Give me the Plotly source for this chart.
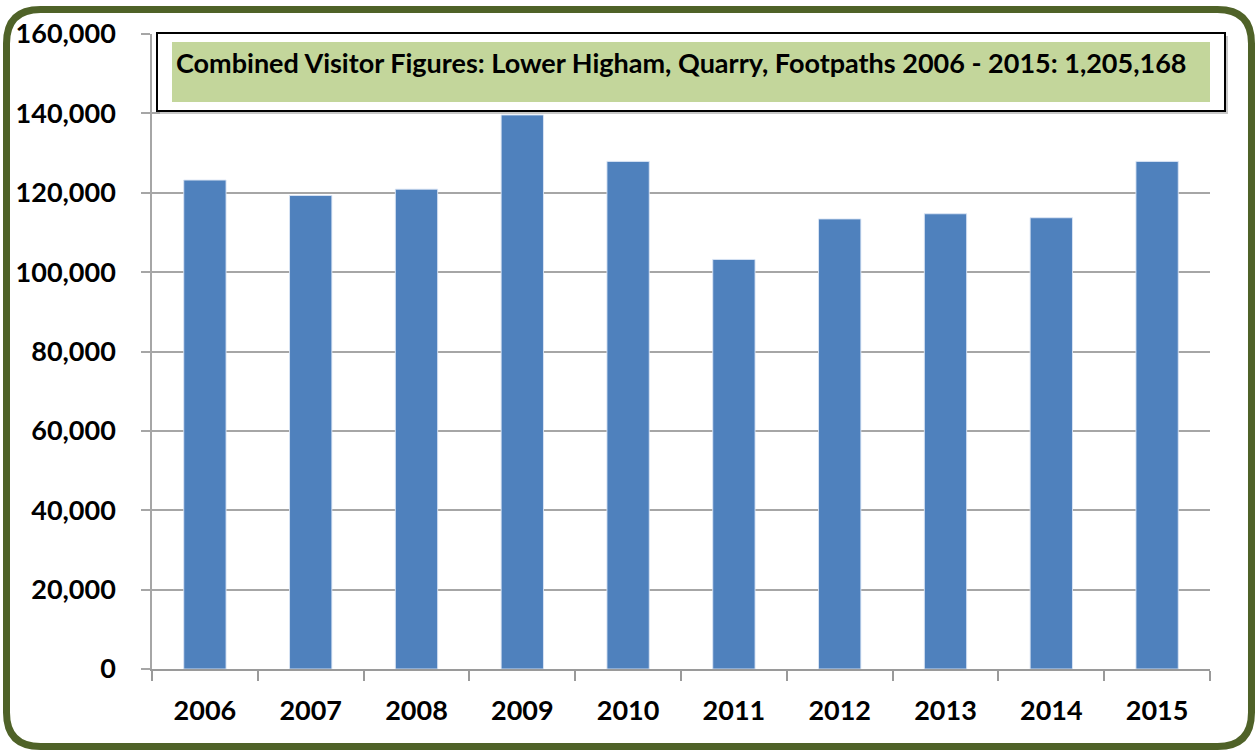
import plotly.graph_objects as go

years = ["2006", "2007", "2008", "2009", "2010", "2011", "2012", "2013", "2014", "2015"]
visitors = [123200, 119300, 120900, 139600, 127900, 103200, 113400, 114700, 113700, 127900]
title_text = "Combined Visitor Figures: Lower Higham, Quarry, Footpaths 2006 - 2015: 1,205,168"
y_ticks = [0, 20000, 40000, 60000, 80000, 100000, 120000, 140000, 160000]

W, H = 1258, 751
L, R, T, B = 152, 48, 34, 82
PW, PH = W - L - R, H - T - B


def px(x):
    return (x - L) / PW


def py(y):
    return (H - B - y) / PH


fig = go.Figure()
fig.add_trace(go.Bar(
    x=years, y=visitors,
    marker=dict(color="#4f81bd", line=dict(color="rgba(220,230,245,0.9)", width=1)),
))

# outer rounded border
l, r, t, b, rad = 6.5, 1251.5, 9.5, 746.5, 34
pts = [
    ("M", px(l + rad), py(t)),
    ("L", px(r - rad), py(t)),
    ("Q", px(r), py(t), px(r), py(t + rad)),
    ("L", px(r), py(b - rad)),
    ("Q", px(r), py(b), px(r - rad), py(b)),
    ("L", px(l + rad), py(b)),
    ("Q", px(l), py(b), px(l), py(b - rad)),
    ("L", px(l), py(t + rad)),
    ("Q", px(l), py(t), px(l + rad), py(t)),
]
path = ""
for p in pts:
    cmd = p[0]
    coords = p[1:]
    path += cmd + " " + " ".join(
        f"{coords[i]:.5f},{coords[i+1]:.5f}" for i in range(0, len(coords), 2)
    ) + " "
path += "Z"

shapes = [
    dict(type="path", xref="paper", yref="paper", path=path,
         line=dict(color="#4f6228", width=7), fillcolor="rgba(0,0,0,0)", layer="above"),
    # title box shadow
    dict(type="rect", xref="paper", yref="paper",
         x0=px(160), x1=px(1228), y0=py(36), y1=py(114),
         fillcolor="#c8c8c8", line=dict(width=0), layer="above"),
    # title box
    dict(type="rect", xref="paper", yref="paper",
         x0=px(157), x1=px(1225), y0=py(33), y1=py(111),
         fillcolor="white", line=dict(color="black", width=2), layer="above"),
    # green fill
    dict(type="rect", xref="paper", yref="paper",
         x0=px(172), x1=px(1210), y0=py(42), y1=py(102),
         fillcolor="#c3d69b", line=dict(width=0), layer="above"),
]

fig.update_layout(
    width=W, height=H, autosize=False,
    margin=dict(l=L, r=R, t=T, b=B, pad=0),
    paper_bgcolor="white", plot_bgcolor="white",
    bargap=0.6, showlegend=False,
    shapes=shapes,
    annotations=[dict(
        text=title_text, xref="paper", yref="paper",
        x=px(174), y=py(62), xanchor="left", yanchor="middle", showarrow=False,
        font=dict(family="Lato", size=27, color="black", weight="bold"),
    )],
)
fig.update_xaxes(
    type="category", showgrid=False, showline=True, linecolor="#9a9a9a", linewidth=1.5,
    ticks="outside", tickson="boundaries", ticklen=10, tickcolor="#9a9a9a", tickwidth=1.5,
    tickfont=dict(family="Lato", size=27, color="black", weight="bold"),
    ticklabelstandoff=17,
)
fig.update_yaxes(
    range=[0, 160000], tickvals=y_ticks, tickformat=",", showgrid=True,
    gridcolor="#a6a6a6", gridwidth=1.5, zeroline=False,
    showline=True, linecolor="#a6a6a6", linewidth=1.5,
    ticks="outside", ticklen=9, tickcolor="#a6a6a6", tickwidth=1.5,
    tickfont=dict(family="Lato", size=27, color="black", weight="bold"),
    ticklabelstandoff=20,
)

fig.write_html(
    "out.html",
    config={"displayModeBar": False},
    post_script="document.body.style.margin='0';document.body.style.overflow='hidden';",
)
